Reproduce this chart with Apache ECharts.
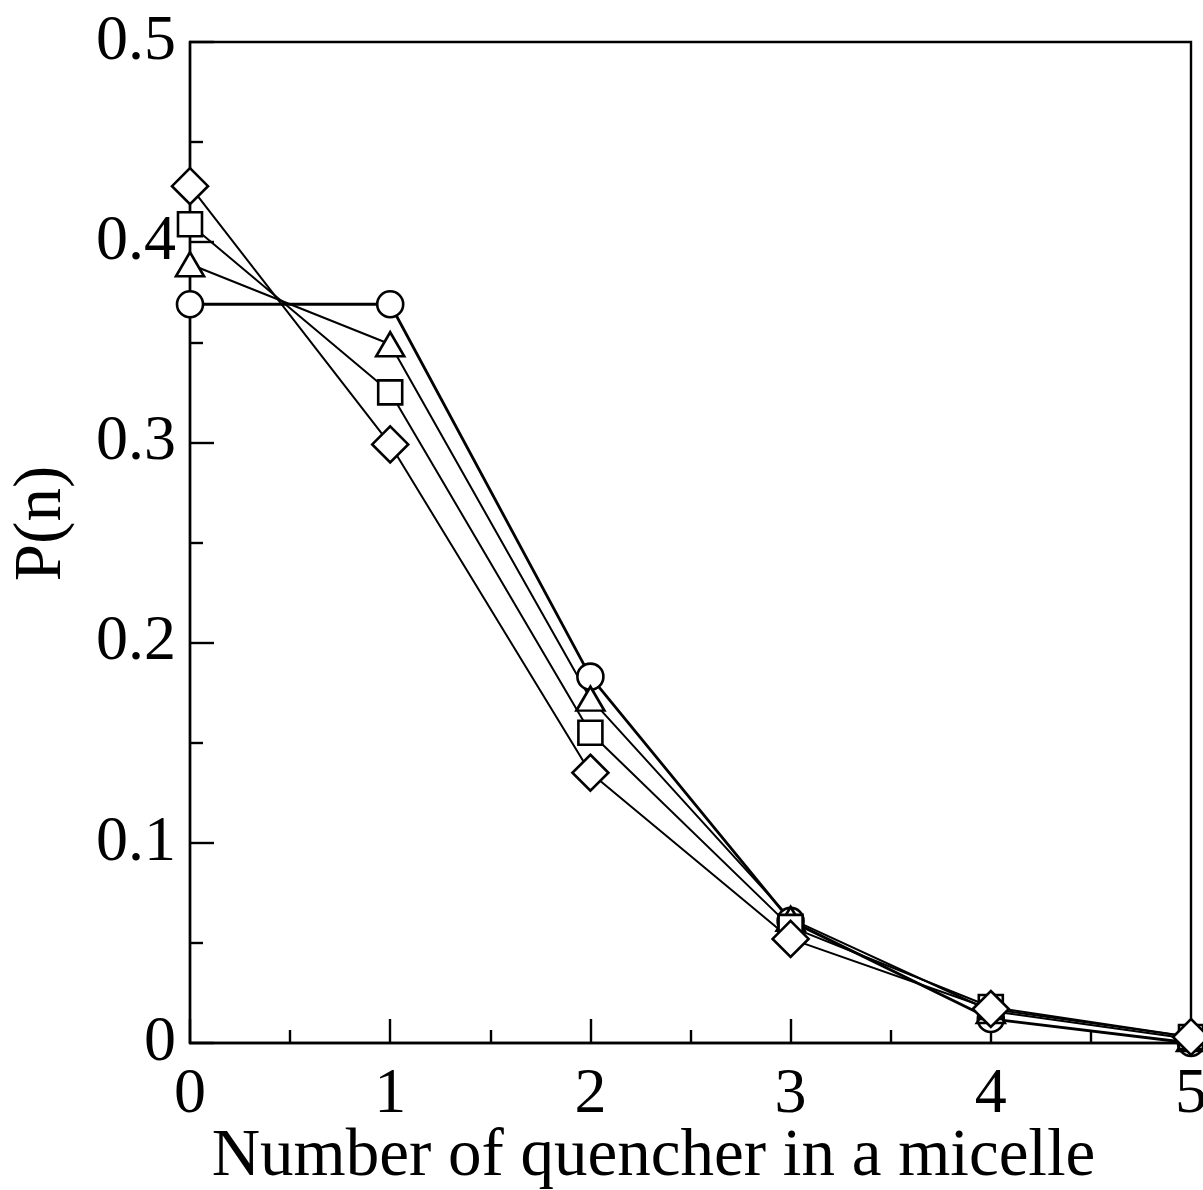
<!DOCTYPE html>
<html>
<head>
<meta charset="utf-8">
<script src="https://cdn.jsdelivr.net/npm/echarts@6/dist/echarts.min.js"></script>
<style>
  html, body { margin: 0; padding: 0; background: #fff; }
  #chart { width: 1203px; height: 1190px; }
</style>
</head>
<body>
<div id="chart"></div>
<script>
// Number of quenchers per micelle (x) and occupancy probability P(n) for four distributions
const quencherCounts = [0, 1, 2, 3, 4, 5];
const pCircle   = [0.369, 0.369, 0.183, 0.061, 0.012, 0.000];
const pTriangle = [0.389, 0.349, 0.172, 0.062, 0.016, 0.002];
const pSquare   = [0.409, 0.325, 0.155, 0.058, 0.018, 0.003];
const pDiamond  = [0.428, 0.299, 0.135, 0.052, 0.017, 0.003];
const xTitle = 'Number of quencher in a micelle';
const yTitle = 'P(n)';

const FONT = '"Liberation Serif", "DejaVu Serif", serif';

function pairs(vals) {
  return quencherCounts.map((n, i) => [n, vals[i]]);
}

function makeSeries(vals, symbol, size, lineWidth) {
  return {
    type: 'line',
    data: pairs(vals),
    symbol: symbol,
    symbolSize: size,
    showAllSymbol: true,
    clip: false,
    lineStyle: { color: '#000', width: lineWidth },
    itemStyle: { color: '#fff', borderColor: '#000', borderWidth: 2.6 },
    emphasis: { disabled: true },
    animation: false
  };
}

const chart = echarts.init(document.getElementById('chart'), null, { renderer: 'canvas' });
chart.setOption({
  animation: false,
  backgroundColor: '#fff',
  grid: {
    left: 190, right: 12, top: 42, bottom: 147,
    outerBoundsMode: 'none',
    containLabel: false,
    show: true, borderColor: '#000', borderWidth: 2.4, backgroundColor: 'transparent'
  },
  xAxis: {
    type: 'value',
    min: 0, max: 5, interval: 1,
    name: xTitle,
    nameLocation: 'middle',
    nameGap: 81,
    nameMoveOverlap: false,
    nameTextStyle: { fontFamily: FONT, fontSize: 67, color: '#000', padding: [0, 74, 0, 0] },
    axisLine: { lineStyle: { color: '#000', width: 2.4 } },
    axisTick: { inside: true, length: 24, lineStyle: { color: '#000', width: 2.4 } },
    minorTick: { show: true, splitNumber: 2, length: 13, lineStyle: { color: '#000', width: 2.4 } },
    splitLine: { show: false },
    axisLabel: { fontFamily: FONT, fontSize: 64, color: '#000', margin: 20 }
  },
  yAxis: {
    type: 'value',
    min: 0, max: 0.5, interval: 0.1,
    name: yTitle,
    nameLocation: 'middle',
    nameRotate: 90,
    nameGap: 114,
    nameTextStyle: { fontFamily: FONT, fontSize: 67, color: '#000', padding: [0, 0, 0, 38] },
    axisLine: { lineStyle: { color: '#000', width: 2.4 } },
    axisTick: { inside: true, length: 24, lineStyle: { color: '#000', width: 2.4 } },
    minorTick: { show: true, splitNumber: 2, length: 13, lineStyle: { color: '#000', width: 2.4 } },
    splitLine: { show: false },
    axisLabel: {
      fontFamily: FONT, fontSize: 64, color: '#000', margin: 14,
      formatter: v => (v === 0 ? '0' : v.toFixed(1))
    }
  },
  series: [
    makeSeries(pCircle, 'circle', 26, 2.8),
    makeSeries(pTriangle, 'triangle', [28, 24], 2),
    makeSeries(pSquare, 'rect', 24, 2),
    makeSeries(pDiamond, 'diamond', 36, 2)
  ]
});
</script>
</body>
</html>
